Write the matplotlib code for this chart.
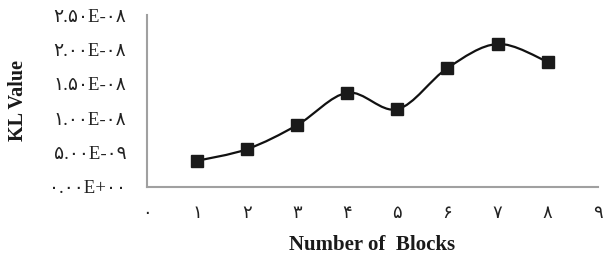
import numpy as np
import matplotlib
matplotlib.use("Agg")
import matplotlib.pyplot as plt
from matplotlib.path import Path
from matplotlib.patches import PathPatch

# data
blocks = [1, 2, 3, 4, 5, 6, 7, 8]
kl_values = [3.8e-9, 5.5e-9, 9.0e-9, 1.37e-8, 1.13e-8, 1.73e-8, 2.08e-8, 1.82e-8]

x_ticks = [0, 1, 2, 3, 4, 5, 6, 7, 8, 9]
x_labels = ["۰", "۱", "۲", "۳", "۴", "۵", "۶", "۷", "۸", "۹"]
y_ticks = [0, 0.5e-8, 1.0e-8, 1.5e-8, 2.0e-8, 2.5e-8]
y_labels = ["۰.۰۰E+۰۰", "۵.۰۰E-۰۹", "۱.۰۰E-۰۸", "۱.۵۰E-۰۸", "۲.۰۰E-۰۸", "۲.۵۰E-۰۸"]

fam = ["Liberation Serif", "DejaVu Sans"]

fig = plt.figure(figsize=(6.05, 2.56), dpi=100)
ax = fig.add_axes([0.243, 0.27, 0.745, 0.671])

# smoothed line (excel-style) built as cubic bezier segments through the points
pts = np.column_stack([blocks, kl_values])
n = len(pts)
verts = [pts[0]]
codes = [Path.MOVETO]
for i in range(n - 1):
    p_prev = pts[max(i - 1, 0)]
    p0 = pts[i]
    p1 = pts[i + 1]
    p_next = pts[min(i + 2, n - 1)]
    c1 = p0 + (p1 - p_prev) / 6.0
    c2 = p1 - (p_next - p0) / 6.0
    verts += [c1, c2, p1]
    codes += [Path.CURVE4] * 3
curve = PathPatch(Path(verts, codes), fill=False, edgecolor="#111111", lw=1.6, zorder=2)
ax.add_patch(curve)

ax.plot(blocks, kl_values, linestyle="none", marker="s", markersize=8.5,
        color="#1a1a1a", zorder=3)

ax.set_xlim(0, 9)
ax.set_ylim(0, 2.5e-8)
ax.set_xticks(x_ticks)
ax.set_xticklabels(x_labels, family=fam, fontsize=13, color="#222222")
ax.set_yticks(y_ticks)
ax.set_yticklabels(y_labels, family=fam, fontsize=13.5, color="#222222")
ax.tick_params(axis="x", length=0, pad=13)
ax.tick_params(axis="y", length=0, pad=15)

for s in ["top", "right"]:
    ax.spines[s].set_visible(False)
for s in ["left", "bottom"]:
    ax.spines[s].set_color("#a0a0a0")
    ax.spines[s].set_linewidth(1.5)

ax.set_xlabel("Number of  Blocks", family=fam, fontsize=15, fontweight="bold", color="#1a1a1a")
ax.xaxis.set_label_coords(0.5, -0.337)
ax.xaxis.label.set_verticalalignment("center")
ax.set_ylabel("KL Value", family=fam, fontsize=14.5, fontweight="bold", color="#1a1a1a")
ax.yaxis.set_label_coords(-0.286, 0.5)
ax.yaxis.label.set_verticalalignment("center")

fig.savefig("out.png", dpi=100)
